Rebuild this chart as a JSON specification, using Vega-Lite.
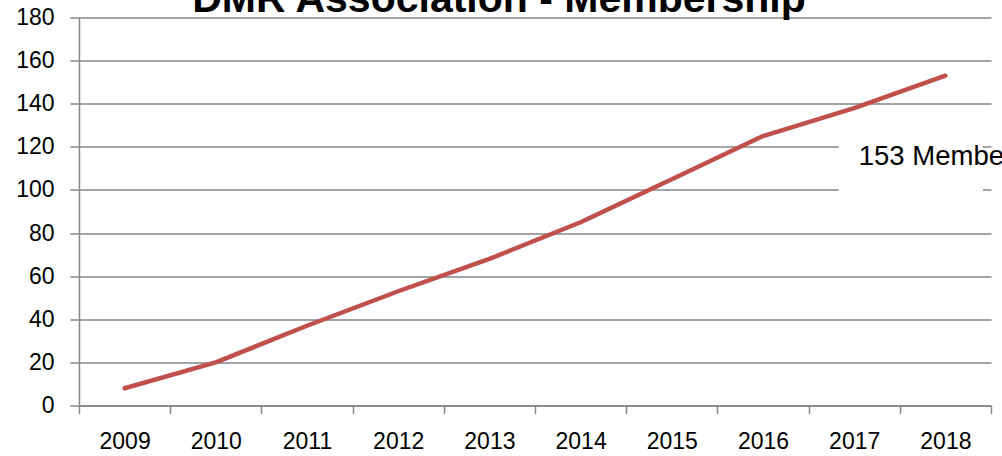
{
  "$schema": "https://vega.github.io/schema/vega-lite/v6.json",
  "width": 912,
  "height": 388,
  "autosize": {"type": "none"},
  "padding": {"left": 79, "top": 17.5, "right": 11, "bottom": 50.5},
  "background": "white",
  "title": {
    "text": "DMR Association - Membership",
    "font": "Liberation Sans",
    "fontSize": 41,
    "fontWeight": "bold",
    "color": "black",
    "anchor": "middle",
    "dx": -36,
    "baseline": "alphabetic",
    "offset": -46.5
  },
  "config": {
    "view": {"stroke": null},
    "axis": {
      "domainColor": "#868686",
      "tickColor": "#868686",
      "gridColor": "#868686",
      "domainWidth": 1.5,
      "tickWidth": 1.5,
      "gridWidth": 1.3,
      "labelFont": "Liberation Sans",
      "labelFontSize": 23,
      "labelColor": "black",
      "title": null
    }
  },
  "layer": [
    {
      "data": {"values": [{"note": "label box"}]},
      "mark": {"type": "rect", "fill": "white"},
      "encoding": {
        "x": {"datum": 2016.83, "type": "quantitative"},
        "x2": {"datum": 2018.41},
        "y": {"datum": 92, "type": "quantitative"},
        "y2": {"datum": 132}
      }
    },
    {
      "data": {
        "values": [
          {"year": 2009, "members": 8},
          {"year": 2010, "members": 20},
          {"year": 2011, "members": 37},
          {"year": 2012, "members": 53},
          {"year": 2013, "members": 68},
          {"year": 2014, "members": 85},
          {"year": 2015, "members": 105},
          {"year": 2016, "members": 125},
          {"year": 2017, "members": 138},
          {"year": 2018, "members": 153}
        ]
      },
      "mark": {"type": "line", "color": "#C0504D", "strokeWidth": 4.5, "strokeCap": "round", "strokeJoin": "round"},
      "encoding": {
        "x": {
          "field": "year",
          "type": "quantitative",
          "scale": {"domain": [2008.5, 2018.5], "nice": false, "zero": false},
          "axis": {
            "values": [2008.5, 2009.5, 2010.5, 2011.5, 2012.5, 2013.5, 2014.5, 2015.5, 2016.5, 2017.5, 2018.5],
            "labelExpr": "datum.value < 2018 ? format(datum.value + 0.5, 'd') : ''",
            "labelOffset": 45.6,
            "labelOverlap": false,
            "labelFlush": false,
            "labelBound": false,
            "grid": false,
            "tickSize": 8,
            "labelPadding": 17
          }
        },
        "y": {
          "field": "members",
          "type": "quantitative",
          "scale": {"domain": [0, 180], "nice": false},
          "axis": {
            "values": [0, 20, 40, 60, 80, 100, 120, 140, 160, 180],
            "grid": true,
            "tickSize": 9,
            "labelPadding": 16,
            "labelOverlap": false,
            "labelFlush": false,
            "labelBound": false
          }
        }
      }
    },
    {
      "data": {"values": [{"label": "153 Members"}]},
      "mark": {"type": "text", "align": "left", "baseline": "middle", "font": "Liberation Sans", "fontSize": 27.5, "fill": "black"},
      "encoding": {
        "x": {"datum": 2017.05, "type": "quantitative"},
        "y": {"datum": 115.3, "type": "quantitative"},
        "text": {"field": "label"}
      }
    }
  ]
}
